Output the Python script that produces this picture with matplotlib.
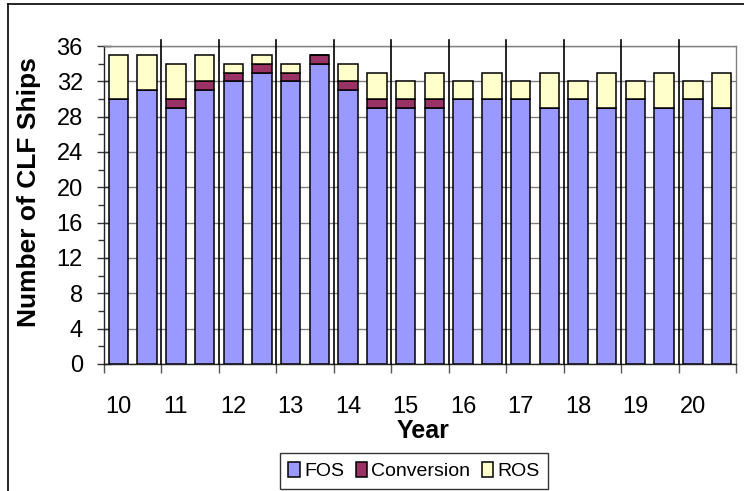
import numpy as np
import matplotlib
matplotlib.use('Agg')
import matplotlib.pyplot as plt
from matplotlib.lines import Line2D

plt.rcParams['font.family'] = ['Liberation Sans', 'DejaVu Sans']

# 数据：每年两根柱子
years = ['10', '11', '12', '13', '14', '15', '16', '17', '18', '19', '20']
fos = [30, 31, 29, 31, 32, 33, 32, 34, 31, 29, 29, 29, 30, 30, 30, 29, 30, 29, 30, 29, 30, 29]
conversion = [0, 0, 1, 1, 1, 1, 1, 1, 1, 1, 1, 1, 0, 0, 0, 0, 0, 0, 0, 0, 0, 0]
ros = [5, 4, 4, 3, 1, 1, 1, 0, 2, 3, 2, 3, 2, 3, 2, 4, 2, 4, 2, 4, 2, 4]

fig = plt.figure(figsize=(7.44, 4.91), dpi=100)
ax = fig.add_axes([104 / 744, 1 - 364 / 491, 632 / 744, 318 / 491])

x = np.arange(len(fos))
fos = np.array(fos)
conversion = np.array(conversion)
ros = np.array(ros)

w = 0.675
ax.bar(x, fos, w, color='#9999FF', edgecolor='black', linewidth=1.1, label='FOS', zorder=3)
ax.bar(x, conversion, w, bottom=fos, color='#993366', edgecolor='black', linewidth=1.1,
       label='Conversion', zorder=3)
ax.bar(x, ros, w, bottom=fos + conversion, color='#FFFFCC', edgecolor='black', linewidth=1.1,
       label='ROS', zorder=3)

ax.set_xlim(-0.5, len(fos) - 0.5)
ax.set_ylim(0, 36)

# 年份分隔线
for sep in np.arange(1.5, len(fos) - 1, 2):
    ax.plot([sep, sep], [0, 36.65], color='black', linewidth=1.2, clip_on=False, zorder=4)

# y轴刻度
ax.set_yticks(np.arange(0, 37, 4))
ax.set_yticks(np.arange(2, 36, 4), minor=True)
ax.tick_params(axis='y', which='major', direction='inout', length=9.4, width=1,
               labelsize=17, pad=10.5, color='#333333')
ax.tick_params(axis='y', which='minor', direction='out', length=4.5, width=1, color='#333333')
ax.yaxis.grid(True, which='major', color='#808080', linewidth=1, zorder=0)

# x轴：标签在每对柱子的第一根，刻度在分隔处
ax.set_xticks(x[::2])
ax.set_xticklabels(years)
ax.set_xticks(np.arange(-0.5, len(fos), 2), minor=True)
ax.tick_params(axis='x', which='major', length=0, labelsize=17, pad=23)
ax.tick_params(axis='x', which='minor', direction='out', length=6.5, width=1, color='#555555')

for s in ['top', 'right']:
    ax.spines[s].set_color('#808080')
for s in ['left', 'bottom']:
    ax.spines[s].set_color('#222222')
for s in ax.spines.values():
    s.set_linewidth(1)

fig.text(29 / 744, 1 - 192 / 491, 'Number of CLF Ships', rotation=90, fontsize=19,
         fontweight='bold', ha='center', va='center')
fig.text(423 / 744, 1 - 431 / 491, 'Year', fontsize=18, fontweight='bold',
         ha='center', va='center')

leg = fig.legend(loc='center', bbox_to_anchor=(414 / 744, 1 - 471 / 491), ncol=3,
                 fontsize=14, frameon=True, fancybox=False, edgecolor='black',
                 handlelength=0.6, handleheight=0.8, handletextpad=0.2,
                 columnspacing=0.6, borderpad=0.45, borderaxespad=0)
leg.get_frame().set_linewidth(1)

# 外框（只有上边和左边可见）
fig.add_artist(Line2D([8 / 744, 1], [1 - 4 / 491, 1 - 4 / 491], color='black', linewidth=1.2))
fig.add_artist(Line2D([8 / 744, 8 / 744], [0, 1 - 4 / 491], color='black', linewidth=1.2))

fig.savefig('out.png', dpi=100)
